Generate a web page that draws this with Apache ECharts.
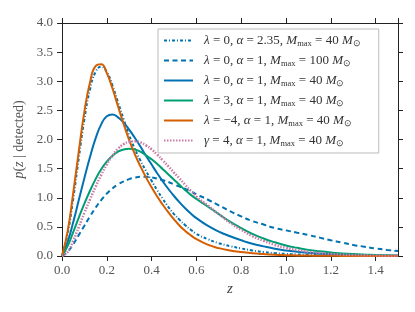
<!DOCTYPE html>
<html>
<head>
<meta charset="utf-8">
<script src="https://cdn.jsdelivr.net/npm/echarts@6/dist/echarts.min.js"></script>
<style>
  html, body { margin: 0; padding: 0; background: #fff; }
  #chart { width: 415px; height: 312px; }
</style>
</head>
<body>
<div id="chart"></div>
<script>
// redshift grid
const Z = [0, 0.025, 0.05, 0.075, 0.1, 0.125, 0.15, 0.175, 0.2, 0.225, 0.25, 0.275, 0.3, 0.325, 0.35, 0.375,
           0.4, 0.425, 0.45, 0.475, 0.5, 0.525, 0.55, 0.575, 0.6, 0.65, 0.7, 0.75, 0.8, 0.85, 0.9, 0.95,
           1.0, 1.05, 1.1, 1.15, 1.2, 1.25, 1.3, 1.35, 1.4, 1.45, 1.5];
// lambda=0, alpha=2.35, Mmax=40
const P_L0_A235 = [0, 0.38, 0.98, 1.68, 2.35, 2.86, 3.16, 3.25, 3.16, 2.93, 2.64, 2.35, 2.07, 1.84, 1.64, 1.46,
                   1.29, 1.13, 0.98, 0.84, 0.72, 0.62, 0.53, 0.45, 0.38, 0.29, 0.22, 0.17, 0.13, 0.095, 0.068, 0.049,
                   0.036, 0.027, 0.02, 0.015, 0.011, 0.008, 0.006, 0.004, 0.003, 0.002, 0.001];
// lambda=0, alpha=1, Mmax=100
const P_L0_M100 = [0, 0.07, 0.2, 0.36, 0.52, 0.68, 0.83, 0.96, 1.07, 1.16, 1.23, 1.28, 1.32, 1.345, 1.36, 1.36,
                   1.35, 1.33, 1.30, 1.27, 1.23, 1.19, 1.15, 1.11, 1.06, 0.97, 0.87, 0.77, 0.68, 0.60, 0.54, 0.48,
                   0.44, 0.40, 0.36, 0.315, 0.27, 0.23, 0.19, 0.16, 0.13, 0.105, 0.085];
// lambda=0, alpha=1, Mmax=40
const P_L0 = [0, 0.24, 0.58, 0.96, 1.34, 1.70, 2.02, 2.26, 2.40, 2.43, 2.38, 2.29, 2.17, 2.03, 1.88, 1.72,
              1.57, 1.42, 1.28, 1.15, 1.03, 0.92, 0.82, 0.73, 0.65, 0.52, 0.42, 0.34, 0.27, 0.21, 0.165, 0.125,
              0.095, 0.072, 0.054, 0.04, 0.03, 0.022, 0.016, 0.012, 0.008, 0.006, 0.004];
// lambda=3, alpha=1, Mmax=40
const P_L3 = [0, 0.17, 0.41, 0.66, 0.90, 1.12, 1.32, 1.49, 1.62, 1.72, 1.79, 1.83, 1.84, 1.83, 1.79, 1.73,
              1.66, 1.58, 1.49, 1.40, 1.31, 1.22, 1.13, 1.05, 0.98, 0.85, 0.72, 0.59, 0.48, 0.38, 0.30, 0.235,
              0.18, 0.14, 0.105, 0.08, 0.06, 0.045, 0.033, 0.024, 0.017, 0.012, 0.008];
// lambda=-4, alpha=1, Mmax=40
const P_LM4 = [0, 0.42, 1.08, 1.80, 2.48, 2.98, 3.26, 3.29, 3.14, 2.88, 2.57, 2.27, 1.99, 1.75, 1.54, 1.35,
               1.18, 1.02, 0.88, 0.75, 0.63, 0.52, 0.43, 0.355, 0.29, 0.195, 0.135, 0.095, 0.067, 0.047, 0.033, 0.022,
               0.015, 0.01, 0.007, 0.005, 0.003, 0.002, 0.0015, 0.001, 0.0007, 0.0004, 0.0002];
// gamma=4, alpha=1, Mmax=40
const P_G4 = [0, 0.07, 0.26, 0.50, 0.74, 0.97, 1.19, 1.39, 1.57, 1.72, 1.84, 1.92, 1.96, 1.97, 1.95, 1.90,
              1.83, 1.74, 1.64, 1.54, 1.43, 1.33, 1.22, 1.12, 1.02, 0.87, 0.72, 0.57, 0.45, 0.34, 0.26, 0.19,
              0.14, 0.10, 0.07, 0.05, 0.035, 0.025, 0.017, 0.012, 0.008, 0.005, 0.003];

const X_TICKS = [0, 0.2, 0.4, 0.6, 0.8, 1.0, 1.2, 1.4];
const Y_TICKS = [0, 0.5, 1.0, 1.5, 2.0, 2.5, 3.0, 3.5, 4.0];

const NAMES = ['l0a235', 'l0m100', 'l0', 'l3', 'lm4', 'g4'];
const LABELS = {
  l0a235: '{i|λ} = 0, {i|α} = 2.35, {i|M}{s|max} = 40 {i|M}{s|⊙}',
  l0m100: '{i|λ} = 0, {i|α} = 1, {i|M}{s|max} = 100 {i|M}{s|⊙}',
  l0:     '{i|λ} = 0, {i|α} = 1, {i|M}{s|max} = 40 {i|M}{s|⊙}',
  l3:     '{i|λ} = 3, {i|α} = 1, {i|M}{s|max} = 40 {i|M}{s|⊙}',
  lm4:    '{i|λ} = −4, {i|α} = 1, {i|M}{s|max} = 40 {i|M}{s|⊙}',
  g4:     '{i|γ} = 4, {i|α} = 1, {i|M}{s|max} = 40 {i|M}{s|⊙}'
};

const FONT = 'Liberation Serif';
const BLUE = '#0072B2', GREEN = '#009E73', ORANGE = '#D55E00', PINK = '#CC79A7';

function pairs(arr) { return Z.map((z, i) => [z, arr[i]]); }

function mk(name, arr, color, type, width) {
  return {
    name, type: 'line', data: pairs(arr), symbol: 'none', showSymbol: false,
    smooth: 0.5,
    lineStyle: { color, width: width || 2, type },
    itemStyle: { color },
    emphasis: { disabled: true }
  };
}

const axisCommon = {
  axisLine: { show: true, onZero: false, lineStyle: { color: '#222', width: 1 } },
  axisTick: { show: true, inside: false, length: 5, lineStyle: { color: '#222', width: 1 } },
  splitLine: { show: false }
};

const chart = echarts.init(document.getElementById('chart'), null, { renderer: 'canvas' });
chart.setOption({
  animation: false,
  backgroundColor: '#fff',
  grid: { left: 62, right: 17, top: 23, bottom: 56 },
  xAxis: [
    Object.assign({}, axisCommon, {
      type: 'value', min: 0, max: 1.5, interval: 0.2, position: 'bottom',
      name: 'z', nameLocation: 'middle', nameGap: 25,
      nameTextStyle: { fontFamily: FONT, fontStyle: 'italic', fontSize: 15, color: '#444' },
      axisLabel: { margin: 8, fontFamily: FONT, fontSize: 13, color: '#555', showMaxLabel: false,
                   formatter: v => X_TICKS.includes(Math.round(v * 10) / 10) ? v.toFixed(1) : '' }
    }),
    Object.assign({}, axisCommon, {
      type: 'value', min: 0, max: 1.5, interval: 0.2, position: 'top',
      axisLabel: { show: false }
    })
  ],
  yAxis: [
    Object.assign({}, axisCommon, {
      type: 'value', min: 0, max: 4, interval: 0.5, position: 'left',
      name: '{i|p}({i|z} | detected)', nameLocation: 'middle', nameGap: 18,
      nameTextStyle: { fontFamily: FONT, fontSize: 14, color: '#555',
        rich: { i: { fontFamily: FONT, fontStyle: 'italic', fontSize: 14, color: '#555' } } },
      axisLabel: { margin: 9, fontFamily: FONT, fontSize: 13, color: '#555',
                   formatter: v => Y_TICKS.includes(Math.round(v * 10) / 10) ? v.toFixed(1) : '' }
    }),
    Object.assign({}, axisCommon, {
      type: 'value', min: 0, max: 4, interval: 0.5, position: 'right',
      axisLabel: { show: false }
    })
  ],
  legend: {
    orient: 'vertical', left: 158, top: 29,
    padding: [5, 18, 5, 5], itemGap: 6, itemWidth: 29, itemHeight: 13,
    borderColor: '#bbb', borderWidth: 1, backgroundColor: '#fff',
    data: NAMES,
    itemStyle: { opacity: 0 },
    formatter: n => '{sp|}' + LABELS[n],
    textStyle: {
      fontFamily: FONT, fontSize: 13, color: '#333',
      rich: {
        sp: { width: 6 },
        i: { fontFamily: FONT, fontStyle: 'italic', fontSize: 13, color: '#333' },
        s: { fontFamily: FONT, fontSize: 8.5, color: '#333', padding: [6, 0, 0, 0] }
      }
    }
  },
  series: [
    mk('l0a235', P_L0_A235, BLUE, [3, 2, 1, 2]),
    mk('l0m100', P_L0_M100, BLUE, [5, 3.5]),
    mk('l0', P_L0, BLUE, 'solid'),
    mk('l3', P_L3, GREEN, 'solid'),
    mk('lm4', P_LM4, ORANGE, 'solid'),
    mk('g4', P_G4, PINK, [1.5, 1.5], 2.5)
  ]
});
</script>
</body>
</html>
